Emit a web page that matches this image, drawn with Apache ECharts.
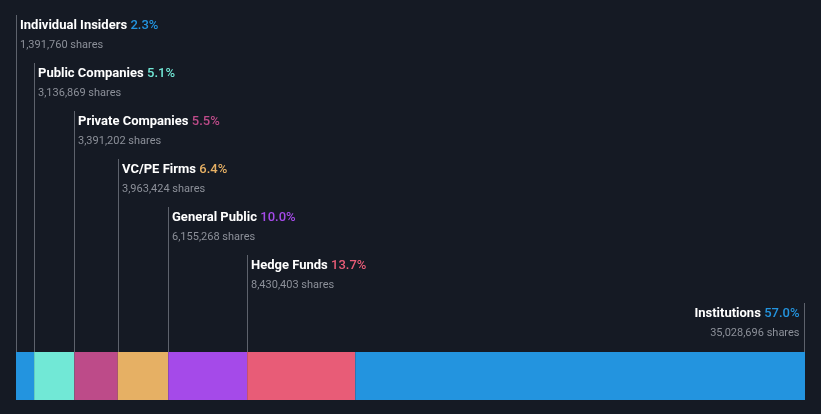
<!DOCTYPE html>
<html>
<head>
<meta charset="utf-8">
<script src="https://cdn.jsdelivr.net/npm/echarts@6/dist/echarts.min.js"></script>
<style>
html,body{margin:0;padding:0;background:#151a24;}
#c{width:821px;height:414px;}
</style>
</head>
<body>
<div id="c"></div>
<script>
const categories = ['Individual Insiders','Public Companies','Private Companies','VC/PE Firms','General Public','Hedge Funds','Institutions'];
const percents = [2.3, 5.1, 5.5, 6.4, 10.0, 13.7, 57.0];
const shareLabels = ['1,391,760','3,136,869','3,391,202','3,963,424','6,155,268','8,430,403','35,028,696'];
const colors = ['#2394df','#71e8d6','#bd4b89','#e6b064','#a54ae9','#e85c77','#2394df'];

const chart = echarts.init(document.getElementById('c'), null, {renderer:'canvas'});
const series = categories.map((name, i) => ({
  name: name,
  type: 'bar',
  stack: 'own',
  barWidth: '100%',
  data: [percents[i]],
  itemStyle: {color: colors[i]},
  silent: true
}));
chart.setOption({
  backgroundColor: '#151a24',
  animation: false,
  grid: {left: 16, right: 16, top: 352, bottom: 14},
  xAxis: {type: 'value', min: 0, max: 100, show: false},
  yAxis: {type: 'category', data: ['own'], show: false},
  series: series
});

const graphics = [];
let cum = 0;
const gridTopY = 352;
categories.forEach((name, i) => {
  const last = i === categories.length - 1;
  const val = last ? cum + percents[i] : cum;
  const px = chart.convertToPixel({gridIndex: 0}, [val, 0])[0];
  const lx = Math.round(px - (last ? 1 : 0)) + 0.5;
  const yTop = 15 + 48 * i;
  graphics.push({
    type: 'line',
    shape: {x1: lx, y1: yTop, x2: lx, y2: gridTopY},
    style: {stroke: '#5d626c', lineWidth: 1},
    silent: true
  });
  const tx = last ? lx - 5 : lx + 3.5;
  const align = last ? 'right' : 'left';
  graphics.push({
    type: 'text',
    x: tx, y: yTop + 11,
    style: {
      text: '{n|' + name + '} {p|' + percents[i].toFixed(1) + '%}',
      align: align,
      verticalAlign: 'middle',
      rich: {
        n: {fill: '#ffffff', fontSize: 13, fontWeight: 'bold', fontFamily: 'Roboto'},
        p: {fill: colors[i], fontSize: 13, fontWeight: 500, fontFamily: 'Roboto'}
      }
    },
    silent: true
  });
  graphics.push({
    type: 'text',
    x: tx, y: yTop + 30,
    style: {
      text: shareLabels[i] + ' shares',
      align: align,
      verticalAlign: 'middle',
      fill: '#8c9099',
      fontSize: 11,
      fontFamily: 'Roboto'
    },
    silent: true
  });
  cum += percents[i];
});
chart.setOption({graphic: graphics});
</script>
</body>
</html>
